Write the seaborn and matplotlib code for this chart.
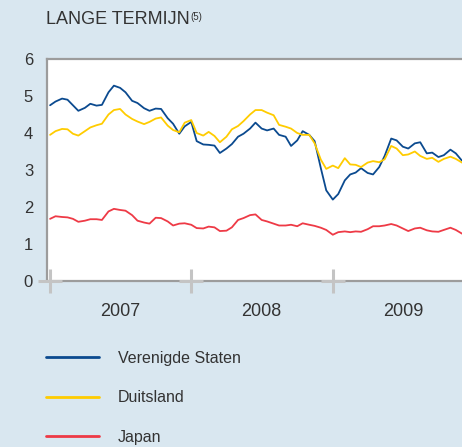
import matplotlib
matplotlib.use('Agg')
import matplotlib.pyplot as plt
import matplotlib.dates as mdates
import seaborn as sns
import pandas as pd

# half-monthly readings of the long-term rates (%)
dates = pd.date_range('2007-01-01', periods=71, freq='SMS')

verenigde_staten = [
    4.75, 4.85, 4.93, 4.90, 4.75, 4.60, 4.68, 4.79, 4.74, 4.76,
    5.10, 5.28, 5.22, 5.10, 4.87, 4.81, 4.67, 4.60, 4.66, 4.65,
    4.40, 4.25, 3.98, 4.18, 4.30, 3.78, 3.69, 3.68, 3.66, 3.46,
    3.58, 3.70, 3.90, 3.98, 4.12, 4.28, 4.12, 4.07, 4.12, 3.95,
    3.90, 3.65, 3.80, 4.05, 3.95, 3.78, 3.05, 2.45, 2.20, 2.35,
    2.72, 2.88, 2.93, 3.05, 2.92, 2.88, 3.08, 3.38, 3.85, 3.80,
    3.63, 3.58, 3.72, 3.75, 3.45, 3.47, 3.35, 3.40, 3.55, 3.45,
    3.25]
duitsland = [
    3.95, 4.05, 4.11, 4.10, 3.98, 3.93, 4.05, 4.15, 4.21, 4.25,
    4.50, 4.62, 4.65, 4.50, 4.38, 4.31, 4.24, 4.30, 4.39, 4.42,
    4.20, 4.08, 4.02, 4.28, 4.35, 4.00, 3.93, 4.03, 3.92, 3.75,
    3.90, 4.10, 4.19, 4.32, 4.50, 4.62, 4.62, 4.55, 4.48, 4.22,
    4.17, 4.12, 4.00, 3.95, 3.95, 3.72, 3.28, 3.03, 3.12, 3.05,
    3.32, 3.15, 3.14, 3.08, 3.20, 3.24, 3.21, 3.29, 3.65, 3.58,
    3.40, 3.42, 3.50, 3.38, 3.30, 3.33, 3.22, 3.30, 3.36, 3.30,
    3.20]
japan = [
    1.68, 1.75, 1.73, 1.72, 1.68, 1.60, 1.63, 1.67, 1.67, 1.65,
    1.88, 1.95, 1.92, 1.90, 1.78, 1.63, 1.58, 1.55, 1.71, 1.70,
    1.61, 1.50, 1.55, 1.56, 1.52, 1.43, 1.42, 1.47, 1.45, 1.35,
    1.36, 1.45, 1.65, 1.70, 1.78, 1.80, 1.65, 1.61, 1.55, 1.50,
    1.50, 1.52, 1.48, 1.56, 1.52, 1.49, 1.44, 1.38, 1.25, 1.32,
    1.34, 1.32, 1.34, 1.33, 1.40, 1.48, 1.48, 1.50, 1.54, 1.50,
    1.42, 1.35, 1.42, 1.44, 1.37, 1.34, 1.33, 1.38, 1.44, 1.38,
    1.28]

landen = ['Verenigde Staten', 'Duitsland', 'Japan']
kleuren = {'Verenigde Staten': '#0b4a8f', 'Duitsland': '#ffcc00', 'Japan': '#ee3a46'}
jaren = pd.to_datetime(['2007-01-01', '2008-01-01', '2009-01-01'])

bg = '#d9e7f0'
grijs = '#9c9c9c'
tekst = '#333333'

sns.set_style('white')
plt.rcParams['font.family'] = ['Liberation Sans', 'DejaVu Sans']

df = pd.DataFrame({
    'datum': list(dates) * 3,
    'rente': verenigde_staten + duitsland + japan,
    'land': [l for l in landen for _ in range(len(dates))],
})

fig = plt.figure(figsize=(4.62, 4.47), dpi=100, facecolor=bg)
ax = fig.add_axes([47 / 462, 1 - 281 / 447, 415 / 462, 222 / 447])
ax.set_facecolor('white')

sns.lineplot(data=df, x='datum', y='rente', hue='land', hue_order=landen,
             palette=kleuren, linewidth=1.3, estimator=None, ax=ax)

ax.set_xlim(pd.Timestamp('2006-12-24'), pd.Timestamp('2009-12-01'))
ax.set_ylim(0, 6)
ax.set_yticks(range(7))
ax.set_xlabel('')
ax.set_ylabel('')

# year crosses on the x-axis
ax.plot(jaren, [0] * len(jaren), linestyle='none', marker='+', ms=17, mew=2.2,
        color='#c4c4c4', clip_on=False, zorder=5)

ax.xaxis.set_major_locator(mdates.YearLocator())
ax.xaxis.set_major_formatter(plt.NullFormatter())
ax.xaxis.set_minor_locator(mdates.MonthLocator(bymonth=7))
ax.xaxis.set_minor_formatter(mdates.DateFormatter('%Y'))
ax.tick_params(axis='x', which='both', length=0)
ax.tick_params(axis='x', which='minor', pad=16, labelsize=13, labelcolor=tekst)
ax.tick_params(axis='y', length=6.5, width=1.4, color=grijs, pad=3.5,
               labelsize=12, labelcolor=tekst)

for kant in ['left', 'top', 'bottom']:
    ax.spines[kant].set_color(grijs)
    ax.spines[kant].set_linewidth(1.6)
ax.spines['right'].set_visible(False)

titel = fig.text(46 / 462, 1 - 24 / 447, 'LANGE TERMIJN', fontsize=13,
                 color=tekst, va='baseline')
fig.canvas.draw()
bb = titel.get_window_extent()
fig.text(bb.x1 / 462 + 0.002, 1 - 20 / 447, '(5)', fontsize=7,
         color=tekst, va='baseline')

handles, labels = ax.get_legend_handles_labels()
ax.get_legend().remove()
leg = fig.legend(handles, labels, loc='upper left',
                 bbox_to_anchor=(46 / 462, 1 - 351 / 447), frameon=False,
                 fontsize=11.5, handlelength=3.3, handletextpad=1.2,
                 labelspacing=1.52, borderpad=0, borderaxespad=0)
for lijn in leg.get_lines():
    lijn.set_linewidth(2)
for t in leg.get_texts():
    t.set_color(tekst)

plt.savefig('out.png', dpi=100, facecolor=bg)
